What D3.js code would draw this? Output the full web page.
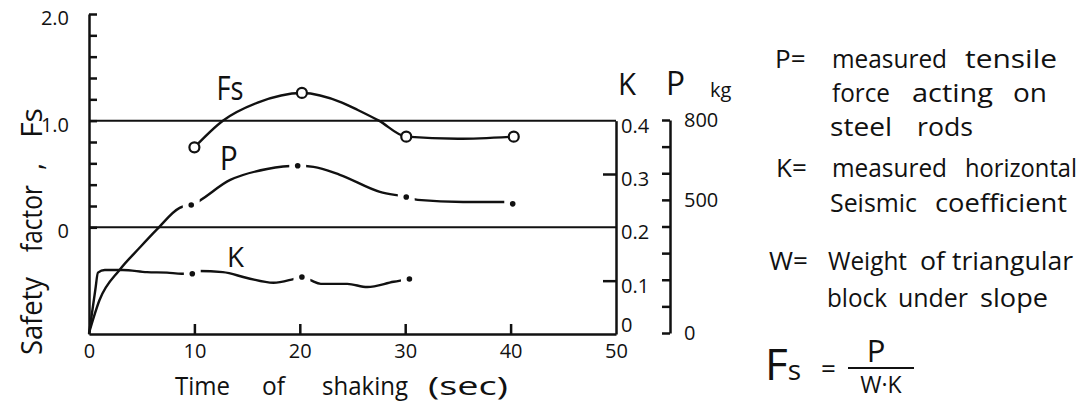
<!DOCTYPE html>
<html>
<head>
<meta charset="utf-8">
<script src="https://cdn.jsdelivr.net/npm/d3@7"></script>
<style>
  body { margin: 0; background: #fff; }
  svg { display: block; }
  text { font-family: "Open Sans", "DejaVu Sans", sans-serif; fill: #111; }
  .axis path, .axis line { stroke: #111; stroke-width: 2.5; }
  .axis text { font-size: 20px; fill: #111; }
</style>
</head>
<body>
<svg id="chart" width="1091" height="407"></svg>
<script>
// time of shaking (sec) vs. readings taken off the curves
const fsPoints = [[10, 0.75], [12.7, 1.0], [16, 1.17], [20.2, 1.26], [24, 1.17], [25.5, 1.10], [27.5, 1.0], [30.1, 0.85], [35, 0.83], [40.3, 0.85]];
const fsMarks = [[10, 0.75], [20.2, 1.26], [30.1, 0.85], [40.3, 0.85]];

const pPoints = [[0, 0], [1, 124], [2.9, 237], [4.8, 320], [6.4, 387], [8.6, 470], [9.7, 481], [13.4, 575], [16.9, 616], [19.8, 628], [21.3, 624], [23.8, 594], [27.6, 530], [30.1, 511], [31.2, 500], [35.5, 492], [39.5, 492], [40.2, 485]];
const pMarks = [[9.7, 481], [19.8, 628], [30.1, 511], [40.2, 485]];

const kPoints = [[0, 0], [0.6, 0.083], [0.85, 0.115], [1.5, 0.12], [3.2, 0.12], [5.5, 0.116], [7.4, 0.115], [8.8, 0.113], [9.8, 0.113], [10.4, 0.118], [12.7, 0.116], [15, 0.105], [17.5, 0.096], [19.4, 0.103], [20.2, 0.107], [21, 0.101], [22, 0.094], [24.5, 0.094], [26.4, 0.088], [28.9, 0.098], [30.4, 0.103]];
const kMarks = [[9.8, 0.113], [20.2, 0.107], [30.4, 0.103]];

const xTicks = [0, 10, 20, 30, 40, 50];
const fsTicks = d3.range(0, 2.01, 0.2);
const fsLabels = [0, 1, 2];
const kTicks = [0.1, 0.3];
const kLabels = [0, 0.1, 0.2, 0.3, 0.4];
const pTicks = d3.range(0, 801, 100);
const pLabels = [0, 500, 800];

const xTitleWords = ['Time', 'of', 'shaking', '(sec)'];
const yTitleWords = ['Safety', 'factor', ',', 'Fs'];
const noteKeys = ['P=', 'K=', 'W='];
const noteLines = [
  ['measured', 'tensile'],
  ['force', 'acting', 'on'],
  ['steel', 'rods'],
  ['measured', 'horizontal'],
  ['Seismic', 'coefficient'],
  ['Weight', 'of', 'triangular'],
  ['block', 'under', 'slope']
];

// layout of the hand-lettered words: [start, width]
const xTitleAt = [[175, 55], [262, 23], [322, 86], [428, 80]];
const yTitleAt = [[355, 78], [252, 67], [170, 7], [138, 30]];
const keyAt = [[775, 68], [776, 177], [769, 270]];
const lineY = [68, 102, 136, 177, 212, 270, 307];
const wordAt = [
  [[832, 115], [965, 92]],
  [[832, 58], [912, 81], [1013, 34]],
  [[830, 62], [917, 56]],
  [[832, 115], [965, 112]],
  [[830, 87], [935, 132]],
  [[828, 79], [920, 25], [952, 121]],
  [[827, 60], [898, 70], [980, 68]]
];

const width = 1091;
const height = 407;
const gap = 0.8;

const svg = d3.select('#chart');
const defs = svg.append('defs');

const x = d3.scaleLinear().domain([0, 50]).range([89, 616]);
const yFs = d3.scaleLinear().domain([-1, 2]).range([334, 14]);
const yK = d3.scaleLinear().domain([0, 0.4]).range([yFs(-1), yFs(1)]);
const yP = d3.scaleLinear().domain([0, 800]).range([333, 120]);

// left axis (safety factor)
svg.append('g').attr('class', 'axis')
  .attr('transform', `translate(${x(0)},0)`)
  .call(d3.axisRight(yFs).tickValues(fsTicks).tickSize(8).tickSizeOuter(0).tickFormat(''));

svg.append('g').attr('class', 'axis')
  .attr('transform', `translate(${x(0)},4)`)
  .call(d3.axisLeft(yFs).tickValues(fsLabels).tickSize(0).tickPadding(20)
    .tickFormat(d => d === 0 ? '0' : d.toFixed(1)))
  .call(g => g.select('.domain').remove());

// bottom axis
svg.append('g').attr('class', 'axis')
  .attr('transform', `translate(0,${yFs(-1)})`)
  .call(d3.axisTop(x).tickValues(xTicks.slice(1, -1)).tickSize(10).tickSizeOuter(0).tickFormat(''));

svg.append('g').attr('class', 'axis')
  .attr('transform', `translate(0,${yFs(-1)})`)
  .call(d3.axisBottom(x).tickValues(xTicks).tickSize(0).tickPadding(10))
  .call(g => g.select('.domain').remove());

// K axis
svg.append('g').attr('class', 'axis')
  .attr('transform', `translate(${x(50)},0)`)
  .call(d3.axisLeft(yK).tickValues(kTicks).tickSize(13).tickSizeOuter(0).tickFormat(''));

svg.append('g').attr('class', 'axis')
  .attr('transform', `translate(${x(50)},5)`)
  .call(d3.axisRight(yK).tickValues(kLabels).tickSize(0).tickPadding(5)
    .tickFormat(d => d === 0 ? '0' : d.toFixed(1)))
  .call(g => g.select('.domain').remove())
  .call(g => g.selectAll('.tick').filter(d => d === 0).select('text').attr('y', -14));

// P axis
svg.append('g').attr('class', 'axis')
  .attr('transform', 'translate(670,0)')
  .call(d3.axisLeft(yP).tickValues(pTicks).tickSize(8).tickSizeOuter(0).tickFormat(''));

svg.append('g').attr('class', 'axis')
  .attr('transform', 'translate(670,0)')
  .call(d3.axisRight(yP).tickValues(pLabels).tickSize(0).tickPadding(14))
  .call(g => g.select('.domain').remove());

// grid lines at Fs = 1.0 and 0
svg.append('g').selectAll('line').data([0, 1]).join('line')
  .attr('x1', x(0)).attr('x2', x(50))
  .attr('y1', d => yFs(d)).attr('y2', d => yFs(d))
  .attr('stroke', '#111').attr('stroke-width', 2);

// hand-lettered words, each stretched to its measured width
function words(sel, list, at) {
  sel.selectAll('text').data(list).join('text')
    .attr('x', (d, i) => at[i][0])
    .attr('textLength', (d, i) => at[i][1])
    .attr('lengthAdjust', 'spacingAndGlyphs')
    .text(d => d);
}

svg.append('g')
  .attr('transform', 'translate(42,0) rotate(-90)')
  .attr('font-size', 29)
  .call(g => words(g, yTitleWords, yTitleAt.map(([s, w]) => [-s, w])));

svg.append('g')
  .attr('transform', 'translate(0,395)')
  .attr('font-size', 26)
  .call(g => words(g, xTitleWords, xTitleAt));

svg.append('text').attr('x', 618).attr('y', 95).attr('font-size', 31)
  .attr('textLength', 18).attr('lengthAdjust', 'spacingAndGlyphs').text('K');
svg.append('text').attr('x', 666).attr('y', 95).attr('font-size', 32)
  .attr('textLength', 19).attr('lengthAdjust', 'spacingAndGlyphs').text('P');
svg.append('text').attr('x', 710).attr('y', 97).attr('font-size', 20).text('kg');

// series with gaps cut round the marked readings
function gapMask(id, marks) {
  const m = defs.append('mask').attr('id', id)
    .attr('maskUnits', 'userSpaceOnUse')
    .attr('x', 0).attr('y', 0).attr('width', width).attr('height', height);
  m.append('rect').attr('width', width).attr('height', height).attr('fill', '#fff');
  m.selectAll('rect.gap').data(marks).join('rect').attr('class', 'gap')
    .attr('x', d => x(d[0] - gap)).attr('width', x(2 * gap) - x(0))
    .attr('y', 0).attr('height', height).attr('fill', '#000');
}

gapMask('pGap', pMarks);
gapMask('kGap', kMarks);

const fsLine = d3.line().x(d => x(d[0])).y(d => yFs(d[1])).curve(d3.curveMonotoneX);
const pLine = d3.line().x(d => x(d[0])).y(d => yP(d[1])).curve(d3.curveMonotoneX);
const kLine = d3.line().x(d => x(d[0])).y(d => yK(d[1])).curve(d3.curveMonotoneX);

svg.append('path').datum(pPoints)
  .attr('d', pLine).attr('fill', 'none').attr('stroke', '#111').attr('stroke-width', 2.4)
  .attr('mask', 'url(#pGap)');

svg.append('path').datum(kPoints)
  .attr('d', kLine).attr('fill', 'none').attr('stroke', '#111').attr('stroke-width', 2.4)
  .attr('mask', 'url(#kGap)');

svg.append('path').datum(fsPoints)
  .attr('d', fsLine).attr('fill', 'none').attr('stroke', '#111').attr('stroke-width', 2.4);

svg.append('g').selectAll('circle').data(pMarks).join('circle')
  .attr('cx', d => x(d[0])).attr('cy', d => yP(d[1])).attr('r', 2.8).attr('fill', '#111');

svg.append('g').selectAll('circle').data(kMarks).join('circle')
  .attr('cx', d => x(d[0])).attr('cy', d => yK(d[1])).attr('r', 2.8).attr('fill', '#111');

svg.append('g').selectAll('circle').data(fsMarks).join('circle')
  .attr('cx', d => x(d[0])).attr('cy', d => yFs(d[1])).attr('r', 5)
  .attr('fill', '#fff').attr('stroke', '#111').attr('stroke-width', 2.2);

// curve names
svg.append('text').attr('x', x(12.1)).attr('y', yFs(1.19)).attr('font-size', 32)
  .attr('textLength', 27).attr('lengthAdjust', 'spacingAndGlyphs').text('Fs');
svg.append('text').attr('x', x(12.4)).attr('y', yP(612)).attr('font-size', 33)
  .attr('textLength', 18).attr('lengthAdjust', 'spacingAndGlyphs').text('P');
svg.append('text').attr('x', x(13.1)).attr('y', yK(0.126)).attr('font-size', 28)
  .attr('textLength', 17).attr('lengthAdjust', 'spacingAndGlyphs').text('K');

// notes on the right
const notes = svg.append('g');
notes.selectAll('text.key').data(noteKeys).join('text')
  .attr('class', 'key')
  .attr('x', (d, i) => keyAt[i][0]).attr('y', (d, i) => keyAt[i][1])
  .attr('font-size', 26)
  .text(d => d);

notes.selectAll('g.line').data(noteLines).join('g')
  .attr('class', 'line')
  .attr('transform', (d, i) => `translate(0,${lineY[i]})`)
  .attr('font-size', 25)
  .each(function (list, i) { words(d3.select(this), list, wordAt[i]); });

// Fs = P / (W·K)
const eq = svg.append('g');
eq.append('text').attr('x', 765).attr('y', 380)
  .call(t => t.append('tspan').attr('font-size', 44).text('F'))
  .call(t => t.append('tspan').attr('font-size', 28).text('s'));
eq.append('text').attr('x', 821).attr('y', 378).attr('font-size', 26).text('=');
eq.append('text').attr('x', 876).attr('y', 362).attr('text-anchor', 'middle').attr('font-size', 31).text('P');
eq.append('line').attr('x1', 848).attr('x2', 914).attr('y1', 368).attr('y2', 368)
  .attr('stroke', '#111').attr('stroke-width', 2);
eq.append('text').attr('x', 881).attr('y', 393).attr('text-anchor', 'middle').attr('font-size', 23).text('W·K');
</script>
</body>
</html>
